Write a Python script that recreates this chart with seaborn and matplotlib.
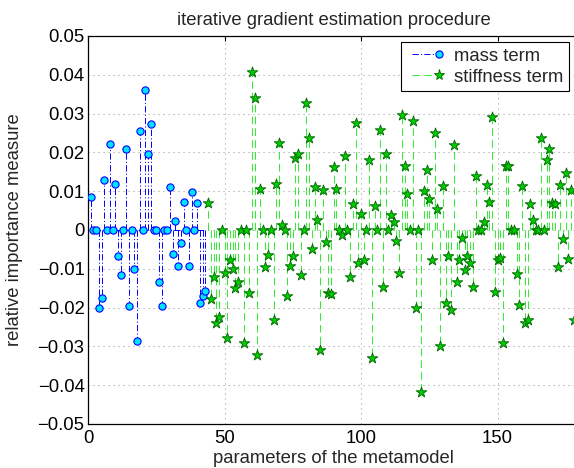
import numpy as np
import matplotlib
matplotlib.use("Agg")
import matplotlib.pyplot as plt
import seaborn as sns
from matplotlib.lines import Line2D
from matplotlib.legend_handler import HandlerBase

# values
mass_idx = np.arange(1, 44)
mass_vals = [0.0084, 0, 0, -0.0200, -0.0174, 0.0128, 0, 0.0221, 0, 0.0118,
             -0.0066, -0.0117, 0, 0.0209, -0.0196, 0, -0.0100, -0.0287, 0.0254, 0,
             0.0362, 0.0197, 0.0272, 0, 0, -0.0135, -0.0196, 0, 0, 0.0111,
             -0.0062, 0.0023, -0.0092, -0.0034, 0.0073, 0, -0.0094, 0.0098, 0, 0.0069,
             -0.0187, -0.0169, -0.0157]

stiff_idx = np.arange(44, 179)
stiff_vals = [0.0069, -0.0178, -0.0120, -0.0240, -0.0223, 0, -0.0111, -0.0279, -0.0077, -0.0100,
              -0.0150, -0.0135, 0, -0.0290, 0, -0.0163, 0.0406, 0.0339, -0.0323, 0.0106,
              0, -0.0096, -0.0065, 0, -0.0233, 0.0119, 0.0223, 0.0013, 0, -0.0169,
              -0.0094, -0.0067, 0.0186, 0.0195, -0.0116, 0, 0.0327, 0.0236, -0.0049, 0.0111,
              0.0027, -0.0309, 0.0102, -0.0031, -0.0163, -0.0165, 0.0163, 0.0105, 0, -0.0012,
              0.0190, 0, -0.0122, 0.0067, 0.0276, -0.0086, 0.0042, -0.0077, 0, 0.0180,
              -0.0330, 0.0063, 0, 0.0259, -0.0146, 0.0195, 0, 0.0039, 0.0020, -0.0028,
              -0.0111, 0.0296, 0.0165, 0.0093, 0, 0.0281, -0.0200, 0, -0.0417, 0.0101,
              0.0154, 0.0080, -0.0077, 0.0249, 0.0053, -0.0298, 0.0114, -0.0189, -0.0066, -0.0206,
              0.0219, -0.0133, -0.0077, -0.0021, -0.0103, -0.0066, -0.0086, -0.0146, 0.0140, 0,
              0, 0.0021, 0.0115, 0.0071, 0.0291, -0.0159, -0.0077, -0.0071, -0.0290, 0.0165,
              0.0165, 0, 0, -0.0114, -0.0193, 0.0114, -0.0240, -0.0233, 0.0066, 0.0026,
              0, 0, 0.0236, 0, 0.0180, 0.0210, 0.0070, 0.0067, -0.0096, 0.0116,
              -0.0023, 0.0147, -0.0075, 0.0103, -0.0231]

x_ticks = [0, 50, 100, 150]
y_ticks = [-0.05, -0.04, -0.03, -0.02, -0.01, 0, 0.01, 0.02, 0.03, 0.04, 0.05]
y_tick_labels = ['\u22120.05', '\u22120.04', '\u22120.03', '\u22120.02', '\u22120.01', '0',
                 '0.01', '0.02', '0.03', '0.04', '0.05']

sns.set_style("white")
plt.rcParams['font.family'] = ['Liberation Sans', 'DejaVu Sans']
plt.rcParams['lines.scale_dashes'] = False
FS = 13.3

mass_line = dict(color='#0000ff', lw=0.7, ls=(0, (4.5, 1.6, 0.8, 1.6)))
stiff_line = dict(color='#2aee2a', lw=0.7, ls=(0, (5.5, 3.0)))
mass_mark = dict(marker='o', s=27, color='#00e2ff', edgecolor='#0000ff', linewidth=0.8)
stiff_mark = dict(marker='*', s=64, color='#00cc00', edgecolor='#006400', linewidth=0.6)

fig = plt.figure(figsize=(5.74, 4.68), dpi=100)
ax = fig.add_axes([88 / 574, 44 / 468, 491.4 / 574, 388 / 468])

# mass term: stems, baseline, markers
ax.vlines(mass_idx, 0, mass_vals, colors=mass_line['color'], linewidth=mass_line['lw'],
          linestyles=[mass_line['ls']], zorder=2)
ax.hlines(0, mass_idx[0], mass_idx[-1], colors=mass_line['color'], linewidth=mass_line['lw'],
          linestyles=[mass_line['ls']], zorder=2)
sns.scatterplot(x=mass_idx, y=mass_vals, ax=ax, zorder=3, legend=False, **mass_mark)

# stiffness term
ax.vlines(stiff_idx, 0, stiff_vals, colors=stiff_line['color'], linewidth=stiff_line['lw'],
          linestyles=[stiff_line['ls']], zorder=4)
sns.scatterplot(x=stiff_idx, y=stiff_vals, ax=ax, zorder=5, legend=False, **stiff_mark)

ax.set_xlim(0, 180)
ax.set_ylim(-0.05, 0.05)
ax.set_xticks(x_ticks)
ax.set_xticklabels([str(t) for t in x_ticks])
ax.set_yticks(y_ticks)
ax.set_yticklabels(y_tick_labels)
ax.tick_params(direction='in', length=3.5, width=0.8, top=True, right=True,
               labelsize=FS, colors='black')
ax.tick_params(axis='x', pad=4.5)
ax.tick_params(axis='y', pad=2.5)
ax.grid(True, color='0.55', linestyle=(0, (0.8, 2.8)), linewidth=0.6)
for sp in ax.spines.values():
    sp.set_color('black')
    sp.set_linewidth(0.9)

ax.set_title('iterative gradient estimation procedure', fontsize=FS, pad=8)
ax.set_xlabel('parameters of the metamodel', fontsize=FS)
ax.set_ylabel('relative importance measure', fontsize=FS)
ax.xaxis.set_label_coords(0.5, -(450 - 424) / 388)
ax.yaxis.set_label_coords((23 - 88) / 491.4, 0.5)


class StemHandler(HandlerBase):
    def __init__(self, line, mark):
        super().__init__()
        self.line = line
        self.mark = mark

    def create_artists(self, legend, orig_handle, xdescent, ydescent, width, height,
                       fontsize, trans):
        y = height / 2 - ydescent
        x0 = -xdescent + 0.25 * fontsize
        x1 = width - xdescent
        stem = Line2D([x0, x1 - 0.2 * fontsize], [y, y], color=self.line['color'],
                      linewidth=self.line['lw'], linestyle=self.line['ls'])
        ms = np.sqrt(self.mark['s'])
        head = Line2D([x1], [y], marker=self.mark['marker'], markersize=ms, linestyle='none',
                      markerfacecolor=self.mark['color'], markeredgecolor=self.mark['edgecolor'],
                      markeredgewidth=self.mark['linewidth'])
        stem.set_transform(trans)
        head.set_transform(trans)
        return [stem, head]


h_mass = Line2D([], [])
h_stiff = Line2D([], [])
leg = ax.legend([h_mass, h_stiff], ['mass term', 'stiffness term'],
                handler_map={h_mass: StemHandler(mass_line, mass_mark),
                             h_stiff: StemHandler(stiff_line, stiff_mark)},
                loc='upper right', bbox_to_anchor=(569 / 574, 1 - 42 / 468),
                bbox_transform=fig.transFigure, borderaxespad=0, fontsize=FS,
                handlelength=1.75, handletextpad=0.8, borderpad=0.3, labelspacing=0.22,
                fancybox=False, framealpha=1, edgecolor='black')
leg.get_frame().set_linewidth(0.8)
leg.set_zorder(10)

fig.savefig('out.png', dpi=100)
